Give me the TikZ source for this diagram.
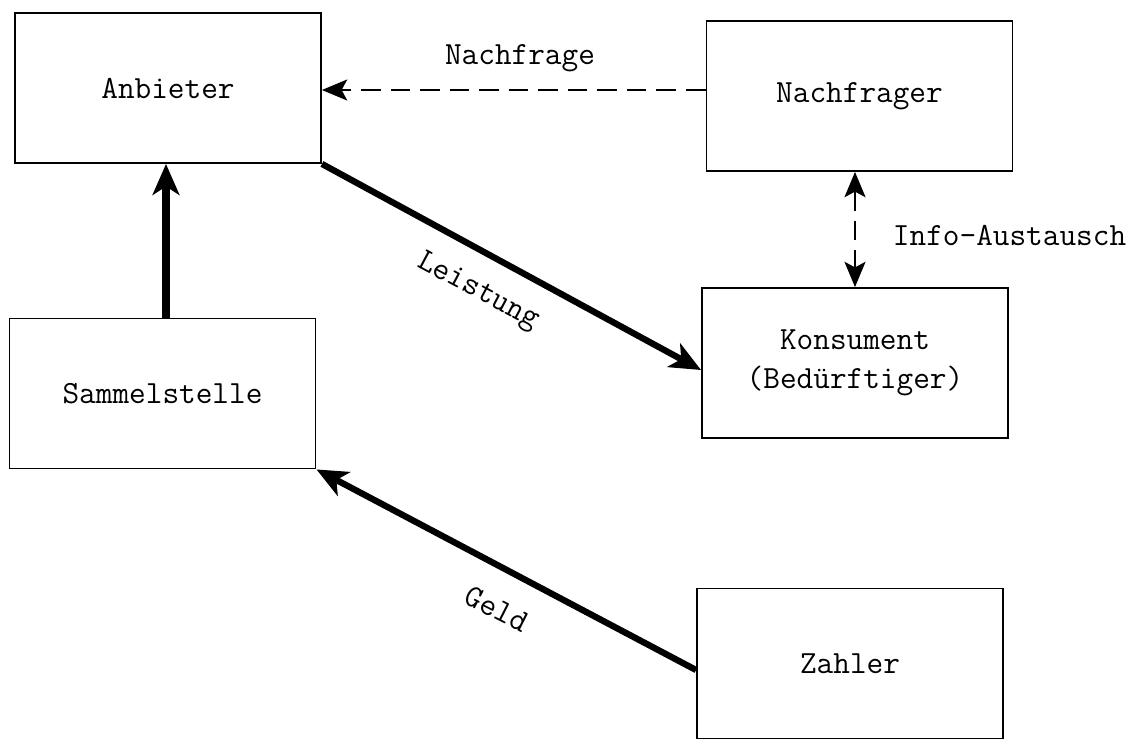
\documentclass[tikz,border=0pt]{standalone}
\usetikzlibrary{arrows.meta}
\tikzset{
  box/.style={draw, line width=1.3pt, minimum width=7.65cm, minimum height=3.75cm, inner sep=0pt, font=\fontsize{23}{28}\selectfont\ttfamily, align=center},
  flow/.style={line width=4.5pt, -{Stealth[length=22pt, width=19pt, inset=6pt]}},
  info/.style={line width=0.9pt, dash pattern=on 14pt off 7pt, -{Stealth[length=18pt, width=15pt, inset=4pt]}},
  lbl/.style={font=\fontsize{23}{28}\selectfont\ttfamily}
}
\begin{document}
\begin{tikzpicture}[x=0.025cm, y=-0.025cm]
			\useasboundingbox (0,0) rectangle (1134,744);
			\node[box] (anb) at (168,88) {Anbieter};
			\node[box] (nach) at (859.5,96) {Nachfrager};
			\node[box] (samm) at (162.5,393.5) {Sammelstelle};
			\node[box] (kons) at (855,363) {Konsument\\(Bedürftiger)};
			\node[box] (zahl) at (850,663.5) {Zahler};
			\coordinate (ix) at (855,0);
			\coordinate (sx) at (166,0);
			% Nachfrage und Info
			\draw[info] (nach.west |- 0,90) -- (anb.east |- 0,90);
			\node[lbl] (nlbl) at (520,58) {Nachfrage};
			\draw[info, {Stealth[length=18pt, width=15pt, inset=4pt]}-{Stealth[length=18pt, width=15pt, inset=4pt]}] (nach.south -| ix) -- (kons.north -| ix);
			\node[lbl, anchor=west] (ilbl) at (888,235) {Info-Austausch};
			% Leistung und Geld
			\draw[flow] (anb.south east) -- (kons.west |- 0,370);
			\node[lbl, rotate=-28] (llbl) at (478,292) {Leistung};
			\draw[flow] (zahl.west |- 0,670) -- (samm.south east);
			\node[lbl, rotate=-27] (glbl) at (497,609) {Geld};
			\draw[flow, line width=5.5pt] (samm.north -| sx) -- (anb.south -| sx);
			\end{tikzpicture}
\end{document}
